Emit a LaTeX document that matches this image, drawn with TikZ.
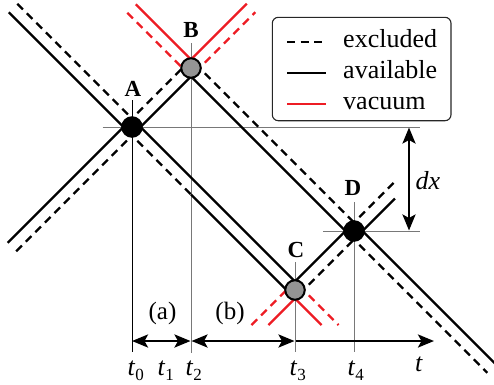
\documentclass[tikz,border=0pt]{standalone}
\usepackage{fontspec}
\setmainfont{Liberation Serif}
\usetikzlibrary{arrows.meta}
\definecolor{vac}{RGB}{237,28,36}
\definecolor{guidegray}{RGB}{120,120,120}
\newcommand{\tsub}[1]{\raisebox{-5pt}{\fontsize{17}{20}\selectfont #1}}
\begin{document}
\begin{tikzpicture}[x=1pt,y=-1pt,
  trk/.style={line width=2.2pt, line cap=butt},
  exc/.style={trk, dash pattern=on 8pt off 5.5pt},
  avl/.style={trk},
  vacs/.style={trk, draw=vac},
  vacd/.style={trk, draw=vac, dash pattern=on 8pt off 5.5pt},
  guide/.style={line width=0.9pt, draw=guidegray},
  guideblack/.style={line width=0.9pt, draw=black},
  event/.style={circle, draw=black, line width=2pt, minimum size=19.5pt, inner sep=0pt},
  evlabel/.style={font=\fontsize{23}{27}\selectfont\bfseries, inner sep=0pt},
  tlabel/.style={font=\fontsize{26}{30}\selectfont, inner sep=0pt, anchor=base west},
  leglabel/.style={font=\fontsize{26}{30}\selectfont, inner sep=0pt, anchor=base west},
  timearrow/.style={line width=2.6pt, {Stealth[length=16pt,width=13pt,inset=3.5pt]}-{Stealth[length=16pt,width=13pt,inset=3.5pt]}},
  timearrowone/.style={line width=2.6pt, -{Stealth[length=16pt,width=13pt,inset=3.5pt]}}
]
\useasboundingbox (0,0) rectangle (494,384);

% guide lines
\draw[guideblack] (132,100) -- (132,352);
\draw[guide] (191,43) -- (191,353);
\draw[guide] (295,262) -- (295,352);
\draw[guide] (354,202) -- (354,352);
\draw[guide] (102.5,127) -- (420,127);
\draw[guide] (323,231) -- (420,231);

% L1 (down-right through A and C)
\draw[exc]  (17.25,3.75) -- (136.25,122.75);
\draw[avl]  (136.25,122.75) -- (299.25,285.75);
\draw[vacd] (299.25,285.75) -- (338.5,325);
\draw[avl]  (8.75,12.25) -- (127.75,131.25);
\draw[exc]  (127.75,131.25) -- (191,194.5);
\draw[avl]  (191,194.5) -- (290.75,294.25);
\draw[vacs] (295,298.5) -- (321.5,325);

% L2 (up-right through A and B)
\draw[avl]  (7.75,242.75) -- (127.75,122.75);
\draw[exc]  (127.75,122.75) -- (186.75,63.75);
\draw[vacs] (191,59.5) -- (246.75,3.75);
\draw[exc]  (16.25,251.25) -- (136.25,131.25);
\draw[avl]  (136.25,131.25) -- (195.25,72.25);
\draw[vacd] (195.25,72.25) -- (255.25,12.25);

% L3 (down-right through B and D)
\draw[vacs] (135.75,4.25) -- (191,59.5);
\draw[exc]  (195.25,63.75) -- (358.25,226.75);
\draw[avl]  (358.25,226.75) -- (495.75,364.25);
\draw[vacd] (127.25,12.75) -- (186.75,72.25);
\draw[avl]  (186.75,72.25) -- (349.75,235.25);
\draw[exc]  (349.75,235.25) -- (487.25,372.75);

% L4 (up-right through C and D)
\draw[vacd] (251.5,325) -- (290.75,285.75);
\draw[avl]  (290.75,285.75) -- (349.75,226.75);
\draw[exc]  (349.75,226.75) -- (395,181.5);
\draw[vacs] (268.5,325) -- (295,298.5);
\draw[exc]  (299.25,294.25) -- (358.25,235.25);
\draw[avl]  (358.25,235.25) -- (395,198.5);

% events
\node[event, fill=black]    (A) at (132,127) {};
\node[event, fill=black!42] (B) at (191,68) {};
\node[event, fill=black!42] (C) at (295,290) {};
\node[event, fill=black]    (D) at (354,231) {};
\node[evlabel] (labA) at (133,89) {A};
\node[evlabel] (labB) at (191,29.5) {B};
\node[evlabel] (labC) at (296,250) {C};
\node[evlabel] (labD) at (353,188) {D};

% time axis
\coordinate (T0) at (132,341);
\coordinate (T2a) at (190.5,341);
\coordinate (T2b) at (191.5,341);
\coordinate (T3a) at (294.5,341);
\coordinate (T3b) at (295.5,341);
\coordinate (Tend) at (434,341);
\draw[timearrow] (T0) -- (T2a);
\draw[timearrow] (T2b) -- (T3a);
\draw[timearrowone] (T3b) -- (Tend);
\node[font=\fontsize{25}{30}\selectfont, inner sep=0pt] (pa) at (162.5,313) {(a)};
\node[font=\fontsize{25}{30}\selectfont, inner sep=0pt] (pb) at (230,313) {(b)};

\node[tlabel] (t0) at (127.5,375) {\textit{t}\tsub{0}};
\node[tlabel] (t1) at (157.5,375) {\textit{t}\tsub{1}};
\node[tlabel] (t2) at (185.5,375) {\textit{t}\tsub{2}};
\node[tlabel] (t3) at (289.5,375) {\textit{t}\tsub{3}};
\node[tlabel] (t4) at (347.5,375) {\textit{t}\tsub{4}};
\node[tlabel] (tt) at (415,371) {\textit{t}};

% dx arrow
\coordinate (DXtop) at (409,127.5);
\coordinate (DXbot) at (409,230.5);
\draw[timearrow] (DXtop) -- (DXbot);
\node[font=\fontsize{26}{30}\selectfont\itshape, inner sep=0pt] (dx) at (428,181) {dx};

% legend
\draw[line width=1.1pt, draw=black!85, rounded corners=6pt] (272.3,17.3) rectangle (451,120.7);
\coordinate (l1a) at (287,42); \coordinate (l1b) at (326,42);
\coordinate (l2a) at (287,73.3); \coordinate (l2b) at (326,73.3);
\coordinate (l3a) at (287,104.3); \coordinate (l3b) at (326,104.3);
\draw[exc] (l1a) -- (l1b);
\draw[avl] (l2a) -- (l2b);
\draw[vacs] (l3a) -- (l3b);
\node[leglabel] (lg1) at (343,47) {excluded};
\node[leglabel] (lg2) at (343,78.5) {available};
\node[leglabel] (lg3) at (343,109.5) {vacuum};
\end{tikzpicture}
\end{document}
